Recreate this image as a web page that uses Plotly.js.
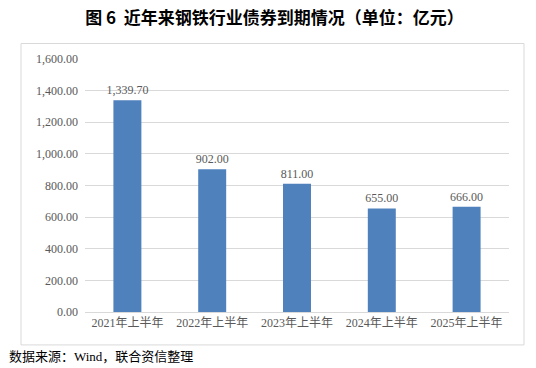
<!DOCTYPE html>
<html>
<head>
<meta charset="utf-8">
<script src="https://cdn.plot.ly/plotly-3.0.1.min.js"></script>
<style>html,body{margin:0;padding:0;background:#fff;}#chart{width:536px;height:368px;}</style>
</head>
<body>
<div id="chart"></div>
<script>
const categories = ["2021年上半年", "2022年上半年", "2023年上半年", "2024年上半年", "2025年上半年"];
const maturities = [1339.70, 902.00, 811.00, 655.00, 666.00];
const yTicks = [0, 200, 400, 600, 800, 1000, 1200, 1400, 1600];

const serif = 'Liberation Serif, Noto Sans CJK SC, serif';
const grey = '#595959';

const trace = {
  type: 'bar',
  x: categories,
  y: maturities,
  marker: {color: '#4F81BD'},
  texttemplate: '%{y:,.2f}',
  textposition: 'outside',
  constraintext: 'none',
  textfont: {family: serif, size: 12, color: grey},
  cliponaxis: false,
  hoverinfo: 'skip'
};

const layout = {
  width: 536, height: 368,
  margin: {l: 85, r: 27, t: 58.5, b: 56},
  paper_bgcolor: '#fff', plot_bgcolor: '#fff',
  showlegend: false,
  bargap: 0.67,
  title: {
    text: '<b>图 6  近年来钢铁行业债券到期情况（单位：亿元）</b>',
    font: {family: 'Noto Sans CJK SC, serif', size: 17, color: '#000'},
    x: 0.512, xanchor: 'center', xref: 'container',
    y: 1 - 18/368, yanchor: 'middle', yref: 'container'
  },
  xaxis: {
    type: 'category',
    tickfont: {family: serif, size: 12, color: grey},
    showline: true, linecolor: '#d9d9d9', linewidth: 1,
    ticks: '', showgrid: false
  },
  yaxis: {
    range: [0, 1600],
    tickvals: yTicks,
    tickformat: ',.2f',
    tickfont: {family: serif, size: 12, color: grey},
    showgrid: true, gridcolor: '#d9d9d9', gridwidth: 1,
    zeroline: false, showline: false, ticks: '', ticklen: 0,
    ticklabelstandoff: 6
  },
  shapes: [{
    type: 'rect', xref: 'paper', yref: 'paper',
    x0: (21 - 85) / 424, x1: (524 - 85) / 424,
    y0: (312 - 345) / 253.5, y1: (312 - 43) / 253.5,
    line: {color: '#d9d9d9', width: 1}, fillcolor: 'rgba(0,0,0,0)', layer: 'below'
  }],
  annotations: [{
    text: '数据来源：Wind，联合资信整理',
    xref: 'paper', yref: 'paper',
    x: (7 - 85) / 424, y: (312 - 357) / 253.5,
    xanchor: 'left', yanchor: 'middle', showarrow: false,
    font: {family: serif, size: 13, color: '#000'}
  }]
};

Plotly.newPlot('chart', [trace], layout, {displayModeBar: false, staticPlot: true});
</script>
</body>
</html>
